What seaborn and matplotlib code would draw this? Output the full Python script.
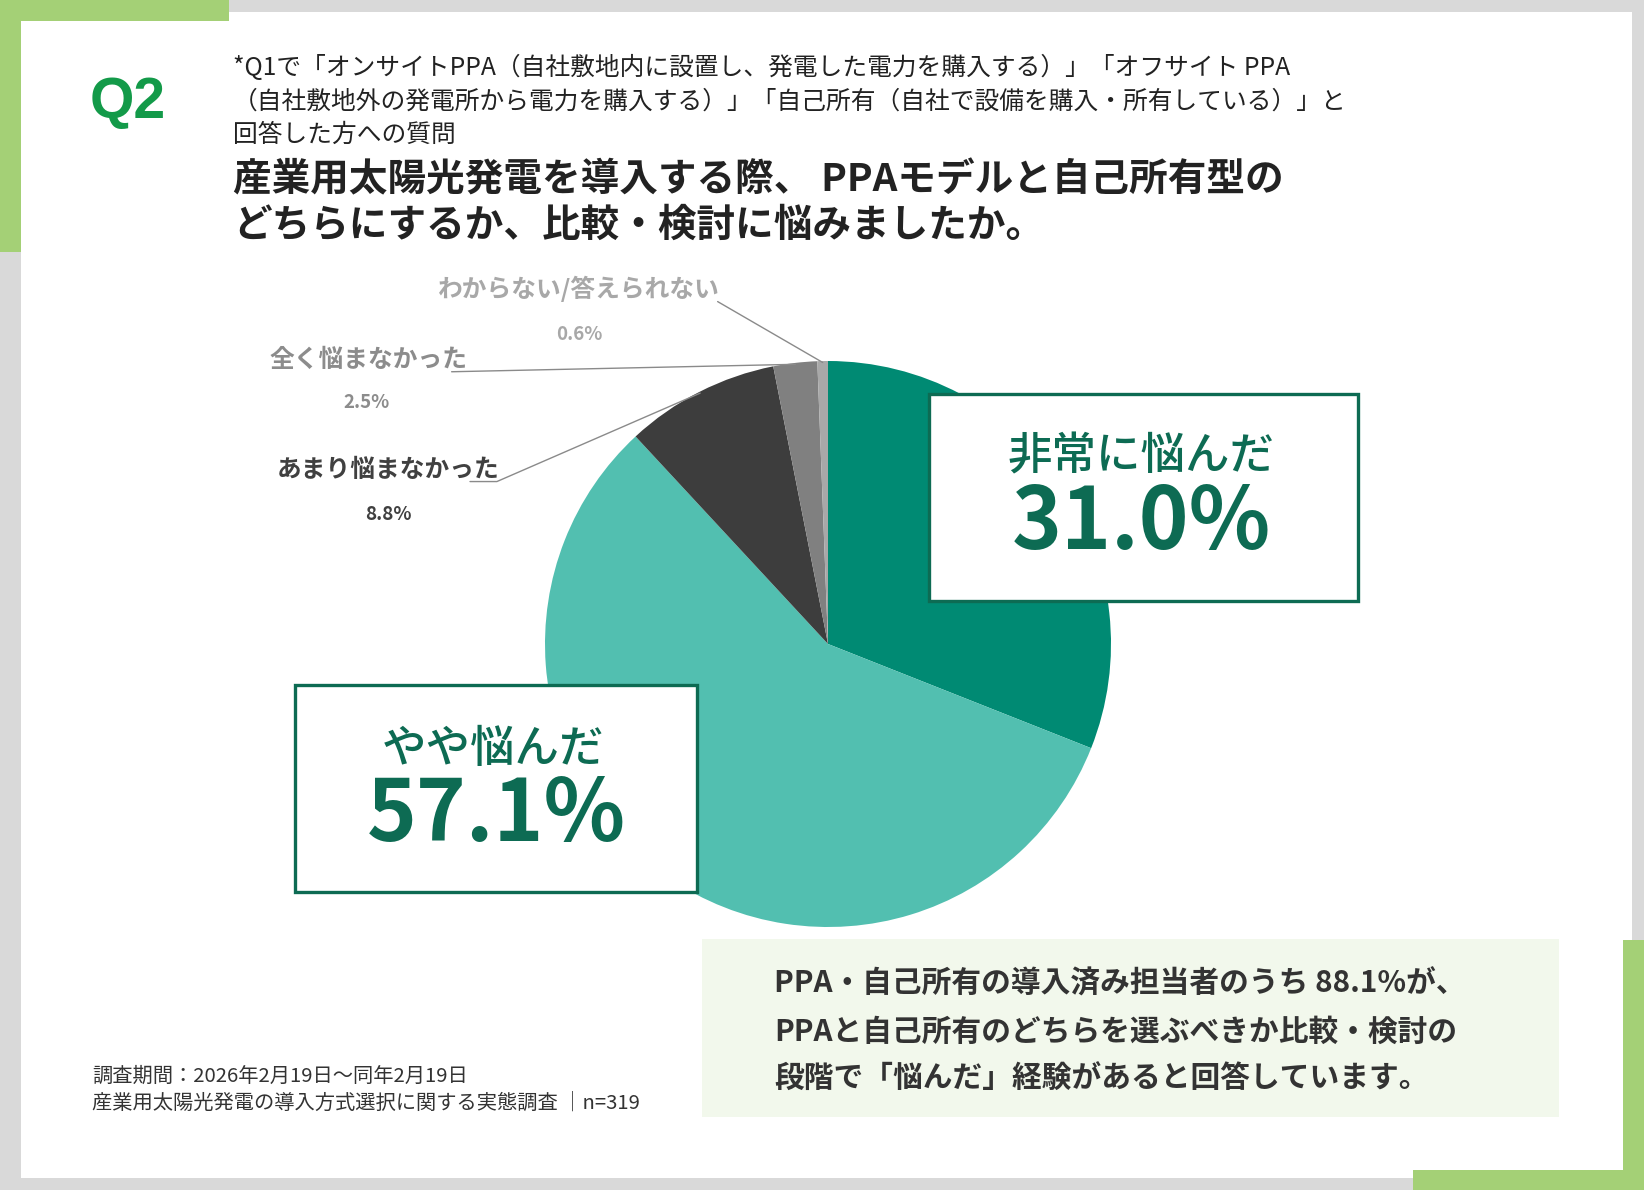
import numpy as np
import matplotlib
matplotlib.use("Agg")
import matplotlib.pyplot as plt
import matplotlib.patches as mpatches
import seaborn as sns

# survey answers, clockwise from 12 o'clock
labels = ["非常に悩んだ", "やや悩んだ", "あまり悩まなかった", "全く悩まなかった", "わからない/答えられない"]
shares = [31.0, 57.1, 8.8, 2.5, 0.6]
slice_colors = ["#008a73", "#52bfb0", "#3d3d3d", "#808080", "#a8a8a8"]

sub_lines = [
    "*Q1で「オンサイトPPA（自社敷地内に設置し、発電した電力を購入する）」「オフサイト PPA",
    "（自社敷地外の発電所から電力を購入する）」「自己所有（自社で設備を購入・所有している）」と",
    "回答した方への質問",
]
title_lines = [
    "産業用太陽光発電を導入する際、 PPAモデルと自己所有型の",
    "どちらにするか、比較・検討に悩みましたか。",
]
summary_lines = [
    "PPA・自己所有の導入済み担当者のうち 88.1%が、",
    "PPAと自己所有のどちらを選ぶべきか比較・検討の",
    "段階で「悩んだ」経験があると回答しています。",
]
footer_lines = [
    "調査期間：2026年2月19日～同年2月19日",
    "産業用太陽光発電の導入方式選択に関する実態調査 │n=319",
]

sns.set_theme(style="white")
plt.rcParams["font.family"] = ["Noto Sans CJK JP", "DejaVu Sans"]

W, H = 1644, 1190
fig = plt.figure(figsize=(W / 100, H / 100), dpi=100)
fig.patch.set_facecolor("#d9d9d9")

# frame / decoration layer (pixel coords, y down)
bg = fig.add_axes([0, 0, 1, 1], zorder=0)
bg.set_xlim(0, W)
bg.set_ylim(H, 0)
bg.axis("off")
green = "#a4d076"
bg.add_patch(mpatches.Rectangle((21, 12), 1611, 1166, color="white", lw=0))
bg.add_patch(mpatches.Rectangle((0, 0), 229, 21, color=green, lw=0))
bg.add_patch(mpatches.Rectangle((0, 0), 21, 252, color=green, lw=0))
bg.add_patch(mpatches.Rectangle((1623, 940), 21, 250, color=green, lw=0))
bg.add_patch(mpatches.Rectangle((1413, 1170), 231, 20, color=green, lw=0))
bg.add_patch(mpatches.Rectangle((702, 939), 857, 178, color="#f2f8ec", lw=0))

# pie
cx, cy, r = 828, 644, 283
pie_ax = fig.add_axes([(cx - r) / W, 1 - (cy + r) / H, 2 * r / W, 2 * r / H], zorder=1)
pie_ax.pie(shares, colors=slice_colors, startangle=90, counterclock=False,
           wedgeprops=dict(linewidth=0))
pie_ax.set_xlim(-1, 1)
pie_ax.set_ylim(-1, 1)
pie_ax.set_aspect("equal")
pie_ax.axis("off")

# mid angles of each wedge (deg)
cum = np.cumsum([0] + shares)
mids = [90 - (cum[i] + shares[i] / 2) * 3.6 for i in range(len(shares))]

def edge(i, rad=1.0):
    a = np.deg2rad(mids[i])
    return rad * np.cos(a), rad * np.sin(a)

small = [
    # idx, label pos, pct pos, line path start, colour
    (4, (-0.88, 1.255), (-0.88, 1.095), [(-0.39, 1.21)], "#a8a8a8"),
    (3, (-1.625, 1.005), (-1.63, 0.855), [(-1.33, 0.962)], "#8c8c8c"),
    (2, (-1.555, 0.615), (-1.555, 0.458), [(-1.265, 0.574), (-1.17, 0.574)], "#404040"),
]
for idx, lpos, ppos, path, col in small:
    pie_ax.text(*lpos, labels[idx], ha="center", va="center", fontsize=17.8,
                color=col, fontweight="bold")
    pie_ax.text(*ppos, f"{shares[idx]:.1f}%", ha="center", va="center", fontsize=13.5,
                color=col, fontweight="bold")
    pts = path + [edge(idx, 0.995)]
    xs, ys = zip(*pts)
    pie_ax.plot(xs, ys, color="#8a8a8a", lw=1.0, clip_on=False)

# overlay layer
ov = fig.add_axes([0, 0, 1, 1], zorder=3)
ov.set_xlim(0, W)
ov.set_ylim(H, 0)
ov.axis("off")
ov.patch.set_alpha(0)

dark_green = "#0d6b53"
boxes = [
    (0, (929, 394, 429, 207), (1141, 457), (1141, 524)),
    (1, (295, 685, 402, 207), (493, 749), (496, 816)),
]
for idx, (bx, by, bw, bh), tpos, ppos in boxes:
    ov.add_patch(mpatches.Rectangle((bx, by), bw, bh, facecolor="white",
                                    edgecolor=dark_green, lw=2.4))
    ov.text(*tpos, labels[idx], ha="center", va="center", fontsize=32,
            color=dark_green, fontweight="medium")
    ov.text(*ppos, f"{shares[idx]:.1f}%", ha="center", va="center", fontsize=61,
            color=dark_green, fontweight="bold")

# header
ov.text(128, 103, "Q2", ha="center", va="center", fontsize=41, color="#139a49",
        fontweight="bold", family=["Liberation Sans", "DejaVu Sans"])
for i, s in enumerate(sub_lines):
    ov.text(233, 68 + i * 33.5, s, ha="left", va="center", fontsize=17.8, color="#222222")
for i, s in enumerate(title_lines):
    ov.text(233, 180 + i * 45, s, ha="left", va="center", fontsize=27.8, color="#222222",
            fontweight="bold")

for i, s in enumerate(summary_lines):
    ov.text(774, 984 + i * 47.5, s, ha="left", va="center", fontsize=21.4, color="#333333",
            fontweight="bold")

for i, s in enumerate(footer_lines):
    ov.text(92, 1076 + i * 27, s, ha="left", va="center", fontsize=14.6, color="#333333")

fig.savefig("out.png", dpi=100, facecolor=fig.get_facecolor())
